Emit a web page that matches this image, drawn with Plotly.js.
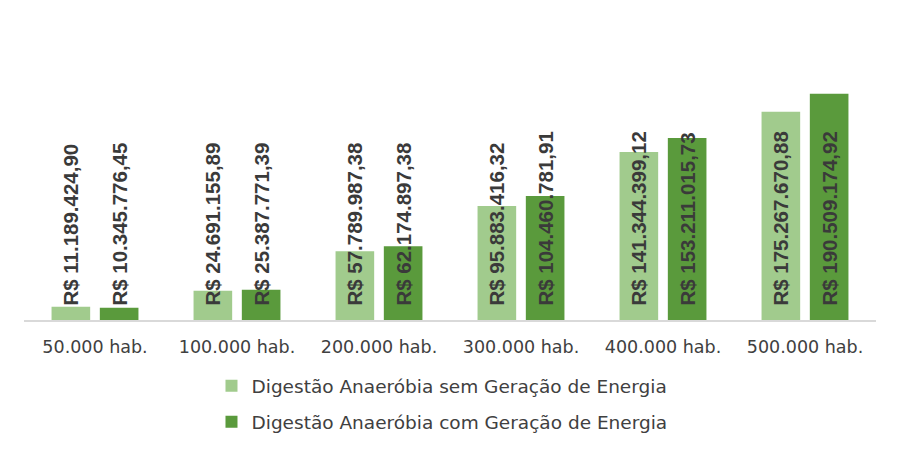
<!DOCTYPE html>
<html>
<head>
<meta charset="utf-8">
<script src="https://cdn.plot.ly/plotly-3.0.1.min.js"></script>
<style>html,body{margin:0;padding:0;background:#fff;}#chart{width:898px;height:450px;}</style>
</head>
<body>
<div id="chart"></div>
<script>
const categories = ['50.000 hab.', '100.000 hab.', '200.000 hab.', '300.000 hab.', '400.000 hab.', '500.000 hab.'];
const seriesNames = ['Digestão Anaeróbia sem Geração de Energia', 'Digestão Anaeróbia com Geração de Energia'];
const semGeracao = [11189424.90, 24691155.89, 57789987.38, 95883416.32, 141344399.12, 175267670.88];
const comGeracao = [10345776.45, 25387771.39, 62174897.38, 104460781.91, 153211015.73, 190509174.92];

function brl(v) {
  const parts = v.toFixed(2).split('.');
  const intPart = parts[0].replace(/\B(?=(\d{3})+(?!\d))/g, '.');
  return '\u00A0\u00A0R$ ' + intPart + ',' + parts[1];
}

const labelFont = {family: 'Liberation Sans, Arial, sans-serif', size: 20.5, color: '#3a3a3a', weight: 700};

function barTrace(name, values, color) {
  return {
    type: 'bar', name: name, x: categories, y: values,
    marker: {color: color},
    text: values.map(brl),
    textposition: 'inside',
    insidetextanchor: 'start',
    textangle: -90,
    constraintext: 'none',
    insidetextfont: labelFont,
    outsidetextfont: labelFont,
    cliponaxis: false,
    hoverinfo: 'none',
    legendgroup: name
  };
}

const data = [
  barTrace(seriesNames[0], semGeracao, '#a1cb8d'),
  barTrace(seriesNames[1], comGeracao, '#5a9a3c')
];

const layout = {
  width: 898, height: 450,
  margin: {l: 24, r: 22, t: 10, b: 130},
  paper_bgcolor: '#ffffff', plot_bgcolor: '#ffffff',
  barmode: 'group', bargap: 0.32, bargroupgap: 0.2,
  showlegend: true,
  legend: {
    orientation: 'v', x: 0.4906, xanchor: 'center',
    yref: 'container', y: 0.184, yanchor: 'top',
    font: {family: 'DejaVu Sans, sans-serif', size: 18.5, color: '#404040'},
    tracegroupgap: 9, itemwidth: 30
  },
  xaxis: {
    type: 'category', showgrid: false, zeroline: false,
    showline: true, linecolor: '#d9d9d9', linewidth: 2,
    ticks: '', ticklabelstandoff: 10,
    tickfont: {family: 'DejaVu Sans, sans-serif', size: 17.5, color: '#404040'}
  },
  yaxis: {range: [0, 261e6], visible: false, showgrid: false, zeroline: false},
  font: {family: 'DejaVu Sans, sans-serif'}
};

Plotly.newPlot('chart', data, layout, {displayModeBar: false, staticPlot: true});
</script>
</body>
</html>
